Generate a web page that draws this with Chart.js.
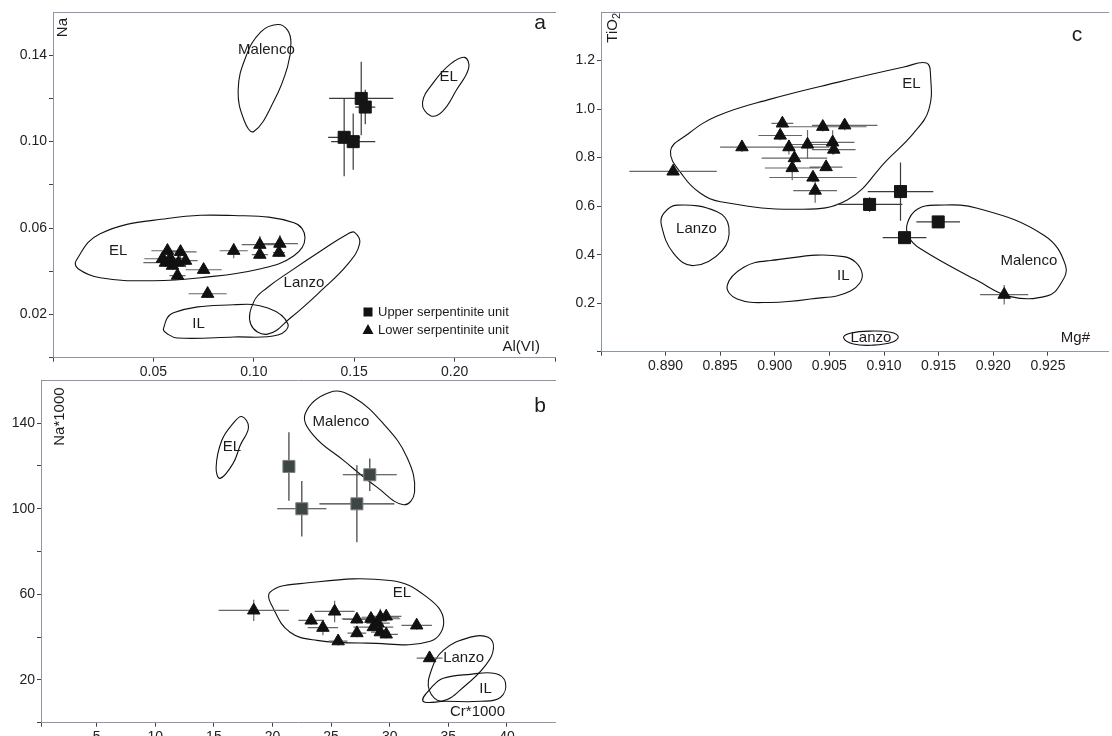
<!DOCTYPE html>
<html>
<head>
<meta charset="utf-8">
<script src="https://cdn.jsdelivr.net/npm/chart.js@4/dist/chart.umd.min.js"></script>
<style>
  body { margin: 0; background: #fff; width: 1112px; height: 736px; position: relative; overflow: hidden; }
  canvas { position: absolute; }
  #ca { left: 0; top: 0; }
  #cb { left: 0; top: 370px; }
  #cc { left: 560px; top: 0; }
</style>
</head>
<body>
<canvas id="ca" width="560" height="380" style="width:560px;height:380px"></canvas>
<canvas id="cb" width="560" height="366" style="width:560px;height:366px"></canvas>
<canvas id="cc" width="552" height="400" style="width:552px;height:400px"></canvas>
<script>
const FONT = '"Liberation Sans", Arial, Helvetica, sans-serif';
const AXIS = '#8d97a3';

// ---------- panel a : Na vs Al(VI)
const aUpperX = [0.145, 0.1495, 0.1535, 0.1555];
const aUpperY = [0.102, 0.100, 0.120, 0.116];
const aUpperXErr = [0.008, 0.011, 0.016, 0.005];
const aUpperYErr = [0.018, 0.013, 0.017, 0.008];

const aLowerX = [0.0545, 0.057, 0.0635, 0.066, 0.0595, 0.062, 0.0585, 0.056, 0.0625, 0.075, 0.077, 0.090, 0.103, 0.103, 0.113, 0.1125];
const aLowerY = [0.0458, 0.0495, 0.049, 0.0449, 0.0426, 0.038, 0.046, 0.044, 0.044, 0.0407, 0.0296, 0.0495, 0.0523, 0.0477, 0.0528, 0.0486];
const aLowerXErr = [0.009, 0.008, 0.008, 0.006, 0.006, 0.004, 0.006, 0.011, 0.006, 0.009, 0.0095, 0.007, 0.009, 0.004, 0.009, 0.003];
const aLowerYErr = [0.003, 0.003, 0.003, 0.003, 0.002, 0.002, 0.002, 0.002, 0.002, 0.002, 0.002, 0.0035, 0.004, 0.002, 0.004, 0.002];

const aMalenco = [[0.1118, 0.1542], [0.1168, 0.1516], [0.1185, 0.1456], [0.1168, 0.1346], [0.1102, 0.1191], [0.1000, 0.1047], [0.0952, 0.1098], [0.0922, 0.1238], [0.0960, 0.1392], [0.1035, 0.1508]];
const aEL = [[0.0115, 0.0449], [0.0235, 0.0574], [0.057, 0.0644], [0.090, 0.0658], [0.120, 0.0625], [0.1255, 0.0555], [0.120, 0.0472], [0.1035, 0.0412], [0.0735, 0.037], [0.050, 0.0356], [0.0235, 0.037], [0.0125, 0.0412]];
const aLanzo = [[0.1502, 0.0580], [0.1527, 0.0528], [0.1468, 0.0433], [0.1335, 0.0310], [0.1185, 0.0186], [0.1068, 0.0109], [0.0985, 0.0155], [0.1002, 0.0263], [0.1068, 0.0325], [0.1185, 0.0402], [0.1335, 0.0495], [0.1468, 0.0573]];
const aIL = [[0.055, 0.0133], [0.060, 0.0208], [0.090, 0.0245], [0.107, 0.023], [0.117, 0.0156], [0.112, 0.0105], [0.090, 0.0096], [0.062, 0.0091], [0.057, 0.011]];
const aEL2 = [[0.188, 0.112], [0.184, 0.118], [0.190, 0.128], [0.198, 0.136], [0.205, 0.139], [0.207, 0.134], [0.201, 0.124], [0.194, 0.114]];

const aNames = ['Malenco', 'EL', 'Lanzo', 'IL', 'EL'];
const aNameX = [0.1063, 0.0325, 0.125, 0.0725, 0.197];
const aNameY = [0.1423, 0.0495, 0.0347, 0.0156, 0.130];

const aXTicks = [0, 0.05, 0.10, 0.15, 0.20, 0.25];
const aXLabels = ['', '0.05', '0.10', '0.15', '0.20', ''];
const aYTicks = [0, 0.02, 0.04, 0.06, 0.08, 0.10, 0.12, 0.14];
const aYLabels = ['', '0.02', '', '0.06', '', '0.10', '', '0.14'];

// ---------- panel b : Na*1000 vs Cr*1000
const bUpperX = [21.4, 22.5, 27.2, 28.3];
const bUpperY = [119.8, 100, 102.3, 115.9];
const bUpperXErr = [0, 2.1, 3.2, 2.3];
const bUpperYErr = [16, 13, 18, 7.6];

const bLowerX = [18.4, 23.3, 24.3, 25.3, 25.6, 27.2, 27.2, 28.4, 28.6, 29.2, 29.7, 29.2, 29.7, 32.3, 33.4, 29.0];
const bLowerY = [52.5, 47.8, 44.4, 52.0, 38.1, 48.3, 41.9, 48.6, 44.7, 49.3, 49.7, 42.3, 41.3, 45.5, 30.2, 46.5];
const bLowerXErr = [3.0, 1.1, 1.3, 1.7, 0.8, 1.2, 0.8, 2.5, 1.7, 1.6, 1.3, 0.8, 1.0, 1.3, 1.1, 1.0];
const bLowerYErr = [5, 2, 3.5, 5, 2, 2, 2, 2, 2, 4, 2, 2, 2, 2, 1.5, 2];

const bEL = [[17.38, 143.1], [17.95, 138.1], [17.24, 129.6], [16.64, 121.2], [15.53, 114.2], [15.19, 119.4], [15.67, 131.9], [16.64, 139.9]];
const bMalenco = [[24.92, 154.5], [22.79, 144.4], [23.5, 134.3], [26.06, 122.6], [28.91, 110.1], [31.18, 101.9], [32.12, 107.8], [31.47, 124.1], [29.47, 139.7], [26.91, 152.1]];
const bEL2 = [[19.8, 61.0], [22.36, 65.0], [30.05, 66.5], [33.18, 58.7], [34.6, 47.8], [33.46, 38.1], [28.06, 37.2], [23.79, 38.5], [21.5, 42.3], [20.08, 53.3]];
const bLanzo = [[34.57, 33.8], [36.88, 40.0], [38.4, 39.9], [38.85, 34.7], [38.17, 26.8], [36.46, 17.4], [34.46, 10.1], [33.38, 15.1], [33.55, 24.5]];
const bIL = [[32.84, 10.1], [33.72, 17.4], [34.57, 20.8], [36.88, 22.6], [39.0, 23.0], [39.87, 18.8], [39.44, 11.8], [37.73, 10.0], [34.75, 10.0]];

const bNames = ['EL', 'Malenco', 'EL', 'Lanzo', 'IL'];
const bNameX = [16.53, 25.84, 31.05, 36.3, 38.17];
const bNameY = [129.1, 140.8, 60.6, 30.2, 16.0];

const bXTicks = [0.25, 5, 10, 15, 20, 25, 30, 35, 40];
const bXLabels = ['', '5', '10', '15', '20', '25', '30', '35', '40'];
const bYTicks = [0, 20, 40, 60, 80, 100, 120, 140];
const bYLabels = ['', '20', '', '60', '', '100', '', '140'];

// ---------- panel c : TiO2 vs Mg#
const cUpperX = [0.91151, 0.90868, 0.91496, 0.91188];
const cUpperY = [0.660, 0.607, 0.535, 0.470];
const cUpperXErr = [0.003, 0.003, 0.002, 0.002];
const cUpperYErr = [0.12, 0.03, 0.01, 0.01];

const cLowerX = [0.8907, 0.8970, 0.9007, 0.9005, 0.9013, 0.9018, 0.9016, 0.9030, 0.9035, 0.9037, 0.9044, 0.9047, 0.9053, 0.9054, 0.9064, 0.9210];
const cLowerY = [0.743, 0.843, 0.941, 0.891, 0.843, 0.798, 0.757, 0.854, 0.718, 0.664, 0.927, 0.761, 0.863, 0.833, 0.933, 0.235];
const cLowerXErr = [0.004, 0.002, 0.001, 0.002, 0.0037, 0.003, 0.0025, 0.002, 0.004, 0.002, 0.004, 0.0015, 0.002, 0.002, 0.003, 0.0022];
const cLowerYErr = [0.01, 0.02, 0.01, 0.02, 0.03, 0.02, 0.05, 0.06, 0.02, 0.05, 0.02, 0.01, 0.05, 0.02, 0.02, 0.04];

const cEL = [[0.89046, 0.826], [0.89199, 0.895], [0.89473, 0.971], [0.89961, 1.041], [0.90572, 1.110], [0.91182, 1.173], [0.91389, 1.190], [0.91426, 1.138], [0.91411, 0.999], [0.91273, 0.902], [0.9103, 0.791], [0.90663, 0.625], [0.90206, 0.587], [0.89504, 0.618], [0.8932, 0.653], [0.89165, 0.722]];
const cLanzo = [[0.88984, 0.570], [0.89107, 0.604], [0.89473, 0.577], [0.8958, 0.514], [0.89519, 0.417], [0.89259, 0.355], [0.89076, 0.404], [0.88963, 0.521]];
const cIL = [[0.89565, 0.272], [0.89717, 0.348], [0.89961, 0.376], [0.90632, 0.392], [0.9080, 0.323], [0.90694, 0.250], [0.90327, 0.217], [0.89961, 0.203], [0.89656, 0.217]];
const cMalenco = [[0.91213, 0.528], [0.91304, 0.587], [0.91487, 0.604], [0.91854, 0.591], [0.92463, 0.480], [0.92662, 0.355], [0.92616, 0.279], [0.92494, 0.230], [0.92158, 0.227], [0.91854, 0.293], [0.91334, 0.424], [0.91227, 0.473]];
const cLanzo2 = [[0.9063, 0.058], [0.9070, 0.077], [0.9088, 0.085], [0.9106, 0.080], [0.9113, 0.062], [0.9108, 0.040], [0.9090, 0.027], [0.9072, 0.032]];

const cNames = ['EL', 'Lanzo', 'IL', 'Malenco', 'Lanzo'];
const cNameX = [0.9125, 0.89284, 0.90627, 0.92326, 0.9088];
const cNameY = [1.103, 0.508, 0.313, 0.376, 0.055];

const cXTicks = [0.8841, 0.890, 0.895, 0.900, 0.905, 0.910, 0.915, 0.920, 0.925];
const cXLabels = ['', '0.890', '0.895', '0.900', '0.905', '0.910', '0.915', '0.920', '0.925'];
const cYTicks = [0, 0.2, 0.4, 0.6, 0.8, 1.0, 1.2];
const cYLabels = ['', '0.2', '0.4', '0.6', '0.8', '1.0', '1.2'];

// ---------- helpers
function pts(xs, ys) {
  return xs.map((x, i) => ({x: x, y: ys[i]}));
}

function errorBars(xs, ys, xe, ye, color) {
  const h = [], v = [];
  for (let i = 0; i < xs.length; i++) {
    if (xe[i]) h.push({x: xs[i] - xe[i], y: ys[i]}, {x: xs[i] + xe[i], y: ys[i]}, {x: xs[i], y: null});
    if (ye[i]) v.push({x: xs[i], y: ys[i] - ye[i]}, {x: xs[i], y: ys[i] + ye[i]}, {x: xs[i], y: null});
  }
  return [h, v].map(d => ({data: d, showLine: true, spanGaps: false, pointRadius: 0, borderColor: color, borderWidth: 1.2}));
}

// closed smooth outline: wrap the ring so every drawn piece has real neighbours
function outline(p) {
  const n = p.length;
  const ring = [p[n - 1], ...p, p[0], p[1]];
  return {
    data: ring.map(q => ({x: q[0], y: q[1]})),
    showLine: true, pointRadius: 0, borderWidth: 1.1, borderColor: '#111', tension: 0.42,
    segment: {borderColor: c => (c.p0DataIndex === 0 || c.p0DataIndex === n + 1) ? 'rgba(0,0,0,0)' : '#111'}
  };
}

function axis(pos, min, max, ticks, labels, size) {
  return {
    type: 'linear', position: pos, min: min, max: max,
    afterBuildTicks: s => { s.ticks = ticks.map(v => ({value: v})); },
    afterFit: s => { if (pos === 'left') s.width = size; else s.height = size; },
    grid: {drawOnChartArea: false, drawTicks: true, tickLength: 4, tickColor: '#444'},
    border: {color: AXIS, width: 1},
    ticks: {
      callback: (v, i) => labels[i], autoSkip: false, maxRotation: 0, padding: 2,
      color: '#222', font: {family: FONT, size: 14}
    }
  };
}

const notesPlugin = {
  id: 'notes',
  afterDraw(chart, args, o) {
    const {ctx, chartArea: a, scales: {x, y}} = chart;
    ctx.save();
    ctx.fillStyle = '#1c1c1c';
    ctx.textAlign = 'center';
    ctx.textBaseline = 'middle';
    ctx.font = '15px ' + FONT;
    o.names.forEach((t, i) => ctx.fillText(t, x.getPixelForValue(o.nx[i]), y.getPixelForValue(o.ny[i])));

    ctx.font = '21px ' + FONT;
    ctx.fillText(o.letter, a.right - o.letterAt[0], a.top + o.letterAt[1]);

    ctx.font = '15px ' + FONT;
    ctx.textAlign = 'right';
    ctx.fillText(o.xTitle, a.right - o.xTitleAt[0], a.bottom - o.xTitleAt[1]);

    if (o.legend) {
      const lx = a.left + 315, ly = a.top + 300;
      ctx.fillStyle = '#111';
      ctx.fillRect(lx - 4.5, ly - 4.5, 9, 9);
      ctx.beginPath();
      ctx.moveTo(lx, ly + 12);
      ctx.lineTo(lx + 5.5, ly + 22);
      ctx.lineTo(lx - 5.5, ly + 22);
      ctx.closePath();
      ctx.fill();
      ctx.fillStyle = '#1c1c1c';
      ctx.textAlign = 'left';
      ctx.font = '13px ' + FONT;
      ctx.fillText('Upper serpentinite unit', lx + 10, ly);
      ctx.fillText('Lower serpentinite unit', lx + 10, ly + 18);
    }

    ctx.translate(a.left + o.yTitleAt[0], a.top + o.yTitleAt[1]);
    ctx.rotate(-Math.PI / 2);
    ctx.textAlign = 'left';
    ctx.font = '15px ' + FONT;
    const w1 = ctx.measureText(o.yTitle).width;
    let w2 = 0;
    if (o.ySub) {
      ctx.font = '11px ' + FONT;
      w2 = ctx.measureText(o.ySub).width;
      ctx.fillText(o.ySub, -w2, 4);
      ctx.font = '15px ' + FONT;
    }
    ctx.fillText(o.yTitle, -w1 - w2, 0);
    ctx.restore();
  }
};

function panel(id, cfg) {
  const up = cfg.up, low = cfg.low;
  const datasets = [
    {data: pts(up[0], up[1]), pointStyle: 'rect', pointRadius: 8.5, backgroundColor: cfg.squareFill, borderColor: cfg.squareEdge, borderWidth: 1},
    {data: pts(low[0], low[1]), pointStyle: 'triangle', pointRadius: 7.2, backgroundColor: '#111', borderColor: '#111', borderWidth: 1},
    ...errorBars(up[0], up[1], up[2], up[3], '#3a3a3a'),
    ...errorBars(low[0], low[1], low[2], low[3], '#666'),
    ...cfg.regions.map(outline)
  ];
  new Chart(document.getElementById(id), {
    type: 'scatter',
    data: {datasets: datasets},
    options: {
      responsive: false,
      animation: false,
      events: [],
      layout: {autoPadding: false, padding: cfg.padding},
      plugins: {legend: {display: false}, tooltip: {enabled: false}, notes: cfg.notes},
      scales: {
        x: cfg.x,
        y: cfg.y,
        top: {
          type: 'linear', axis: 'x', position: 'top',
          ticks: {display: false}, grid: {display: false, drawTicks: false},
          border: {color: AXIS, width: 1},
          afterFit: s => { s.height = 0; }
        }
      }
    },
    plugins: [notesPlugin]
  });
}

panel('ca', {
  up: [aUpperX, aUpperY, aUpperXErr, aUpperYErr],
  low: [aLowerX, aLowerY, aLowerXErr, aLowerYErr],
  squareFill: '#151515', squareEdge: '#151515',
  regions: [aMalenco, aEL, aLanzo, aIL, aEL2],
  padding: {top: 12, right: 5, left: 0, bottom: 0},
  x: axis('bottom', 0, 0.25, aXTicks, aXLabels, 22.3),
  y: axis('left', 0, 0.16, aYTicks, aYLabels, 53),
  notes: {names: aNames, nx: aNameX, ny: aNameY, letter: 'a', letterAt: [15, 11],
          xTitle: 'Al(VI)', xTitleAt: [15, 11], yTitle: 'Na', yTitleAt: [10, 6], legend: true}
});

panel('cb', {
  up: [bUpperX, bUpperY, bUpperXErr, bUpperYErr],
  low: [bLowerX, bLowerY, bLowerXErr, bLowerYErr],
  squareFill: '#3d4545', squareEdge: '#7a7f80',
  regions: [bEL, bMalenco, bEL2, bLanzo, bIL],
  padding: {top: 10, right: 5, left: 0, bottom: 0},
  x: axis('bottom', 0.25, 44.1, bXTicks, bXLabels, 13.3),
  y: axis('left', 0, 160, bYTicks, bYLabels, 41),
  notes: {names: bNames, nx: bNameX, ny: bNameY, letter: 'b', letterAt: [15, 26],
          xTitle: 'Cr*1000', xTitleAt: [50, 11], yTitle: 'Na*1000', yTitleAt: [19, 7]}
});

panel('cc', {
  up: [cUpperX, cUpperY, cUpperXErr, cUpperYErr],
  low: [cLowerX, cLowerY, cLowerXErr, cLowerYErr],
  squareFill: '#151515', squareEdge: '#151515',
  regions: [cEL, cLanzo, cIL, cMalenco, cLanzo2],
  padding: {top: 12, right: 4, left: 0, bottom: 0},
  x: axis('bottom', 0.8841, 0.9305, cXTicks, cXLabels, 48.3),
  y: axis('left', 0, 1.4, cYTicks, cYLabels, 41),
  notes: {names: cNames, nx: cNameX, ny: cNameY, letter: 'c', letterAt: [31, 23],
          xTitle: 'Mg#', xTitleAt: [18, 14], yTitle: 'TiO', ySub: '2', yTitleAt: [12, 1]}
});
</script>
</body>
</html>
